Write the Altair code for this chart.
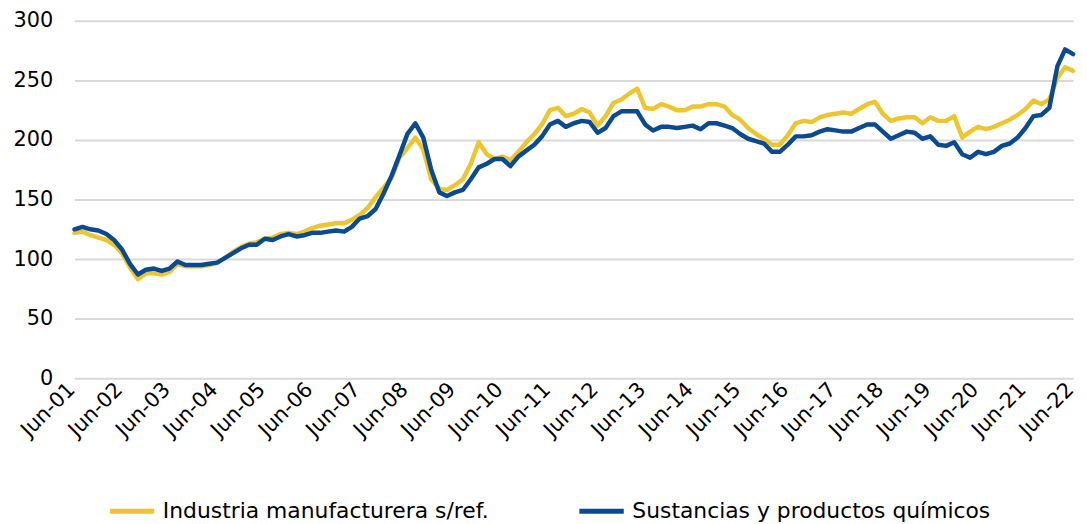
import altair as alt
import pandas as pd

# months since Jun-2001, every two months
months = list(range(0, 253, 2))
dates = [f"{2001 + (5 + m) // 12}-{(5 + m) % 12 + 1:02d}-01T00:00:00" for m in months]

manufactura = [
    122, 123, 120, 118, 116, 112, 105, 93, 83, 88,
    88, 87, 89, 96, 94, 94, 94, 95, 97, 101,
    106, 110, 113, 114, 117, 118, 121, 122, 121, 123,
    126, 128, 129, 130, 130, 133, 137, 143, 152, 160,
    168, 185, 193, 202, 192, 167, 159, 158, 162, 167,
    180, 198, 188, 184, 186, 183, 190, 198, 205, 213,
    225, 227, 220, 222, 226, 223, 212, 220, 231, 234,
    239, 243, 227, 226, 230, 228, 225, 225, 228, 228,
    230, 230, 228, 221, 217, 210, 205, 201, 196, 196,
    204, 214, 216, 215, 219, 221, 222, 223, 222, 226,
    230, 232, 222, 216, 218, 219, 219, 214, 219, 216,
    216, 220, 202, 207, 211, 209, 211, 214, 217, 221,
    226, 233, 230, 234, 252, 261, 258,
]
quimicos = [
    125, 127, 125, 124, 121, 116, 108, 96, 87, 91,
    92, 90, 92, 98, 95, 95, 95, 96, 97, 101,
    105, 109, 112, 112, 117, 116, 119, 121, 119, 120,
    122, 122, 123, 124, 123, 127, 134, 136, 142, 155,
    170, 187, 205, 214, 202, 175, 156, 153, 156, 158,
    167, 177, 180, 184, 184, 178, 186, 191, 196, 203,
    213, 216, 211, 214, 216, 215, 206, 210, 220, 224,
    224, 224, 213, 208, 211, 211, 210, 211, 212, 209,
    214, 214, 212, 210, 205, 201, 199, 197, 190, 190,
    196, 203, 203, 204, 207, 209, 208, 207, 207, 210,
    213, 213, 207, 201, 204, 207, 206, 201, 203, 196,
    195, 198, 188, 185, 190, 188, 190, 195, 197, 202,
    210, 220, 221, 227, 262, 276, 272,
]

series_names = ["Industria manufacturera s/ref.", "Sustancias y productos químicos"]
series_colors = ["#EDC531", "#0B4A8E"]
tick_years = list(range(2001, 2023))
y_ticks = [0, 50, 100, 150, 200, 250, 300]

df = pd.concat([
    pd.DataFrame({"fecha": dates, "valor": manufactura, "serie": series_names[0]}),
    pd.DataFrame({"fecha": dates, "valor": quimicos, "serie": series_names[1]}),
])

FONT = "DejaVu Sans"

color = alt.Color(
    "serie:N",
    scale=alt.Scale(domain=series_names, range=series_colors),
    legend=alt.Legend(
        title=None, orient="none", direction="horizontal",
        legendX=33, legendY=469,
        symbolType="stroke", symbolSize=2000, symbolStrokeWidth=5,
        labelFontSize=22, labelFont=FONT, labelColor="#000000",
        columnPadding=80, labelOffset=6, labelLimit=600,
    ),
)

x = alt.X(
    "fecha:T",
    scale=alt.Scale(domain=[dates[0], dates[-1]], padding=0, nice=False),
    axis=alt.Axis(
        title=None, format="%b-%y", grid=False, domain=False, ticks=False,
        values=[alt.DateTime(year=y, month=6, date=1) for y in tick_years],
        labelAngle=-45, labelAlign="right", labelBaseline="middle",
        labelFontSize=21, labelFont=FONT, labelColor="#000000",
        labelPadding=8, labelOffset=-3, labelOverlap=False, labelFlush=False,
    ),
)
y = alt.Y(
    "valor:Q",
    scale=alt.Scale(domain=[0, 300], nice=False),
    axis=alt.Axis(
        title=None, values=y_ticks, domain=False, ticks=False,
        gridColor="#D9D9D9", gridWidth=2,
        labelFontSize=21, labelFont=FONT, labelColor="#000000", labelPadding=22,
    ),
)

base = alt.Chart(df)
line_m = base.transform_filter(alt.datum.serie == series_names[0]).mark_line(
    strokeWidth=4.5, strokeJoin="round", strokeCap="round"
).encode(x=x, y=y, color=color)
line_q = base.transform_filter(alt.datum.serie == series_names[1]).mark_line(
    strokeWidth=4.5, strokeJoin="round", strokeCap="round"
).encode(x=x, y=y, color=color)

chart = alt.layer(line_m, line_q).properties(
    width=1006, height=360,
    padding={"left": 67, "top": 11, "right": 6, "bottom": 145},
    autosize=alt.AutoSizeParams(type="none"),
).configure_view(stroke=None)

chart.save("out.html", embed_options={"renderer": "svg", "actions": False})
